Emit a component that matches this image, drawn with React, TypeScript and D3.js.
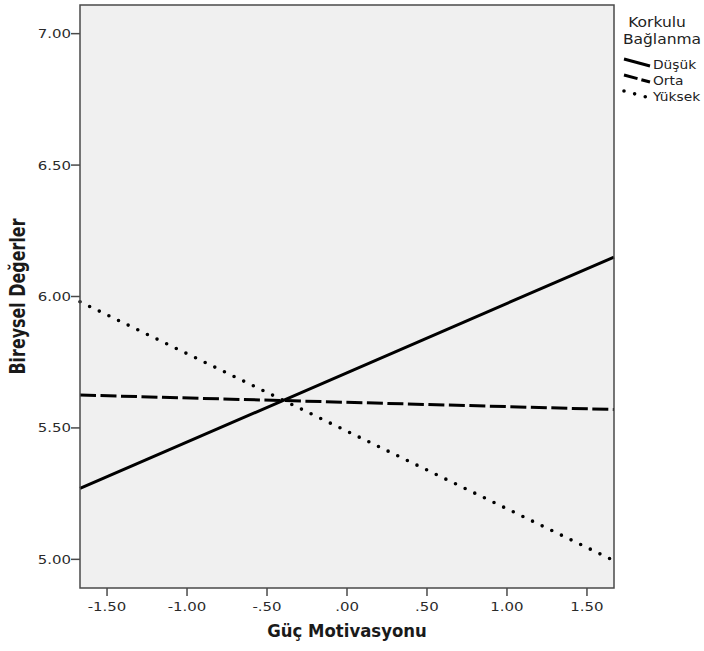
import React from 'react';
import * as d3 from 'd3';

// values
const groups = ['Düşük', 'Orta', 'Yüksek'];
const xValues = [-1.669, 1.669];
const dusuk = [5.27, 6.15];
const orta = [5.625, 5.57];
const yuksek = [5.98, 4.995];
const yTicks = [5.0, 5.5, 6.0, 6.5, 7.0];
const xTicks = [-1.5, -1.0, -0.5, 0, 0.5, 1.0, 1.5];
const yDomain = [4.891, 7.109];

const W = 704;
const H = 651;
const margin = { top: 5, right: 90, bottom: 63, left: 80 };
// the reference text is a bit wider than it is tall
const SX = 1.15;

const styles = [
  { dash: null, width: 3, cap: 'butt' },
  { dash: '16 4.5', width: 3, cap: 'butt' },
  { dash: '0 10.7', width: 3.6, cap: 'round' },
];

const fmtX = (v: number) => {
  const s = d3.format('.2f')(Math.abs(v)).replace(/^0/, '');
  return (v < 0 ? '-' : '') + s;
};

const at = (x: number, y: number, sx = SX) => `translate(${x},${y}) scale(${sx},1)`;

export default function App() {
  const x = d3.scaleLinear().domain(xValues).range([margin.left, W - margin.right]);
  const y = d3.scaleLinear().domain(yDomain).range([H - margin.bottom, margin.top]);
  const line = d3.line<[number, number]>().x(d => x(d[0])).y(d => y(d[1]));
  const series = [dusuk, orta, yuksek];

  const [x0, x1] = x.range();
  const [yb, yt] = y.range();
  const tickFont = '"DejaVu Sans", Verdana, sans-serif';
  const titleFont = '"DejaVu Sans Condensed", "DejaVu Sans", sans-serif';

  return (
    <div style={{ position: 'fixed', left: 0, top: 0 }}>
      <svg width={W} height={H} style={{ display: 'block', background: '#fff' }}>
        <rect x={x0} y={yt} width={x1 - x0} height={yb - yt} fill="#f0f0f0" />

        {series.map((s, i) => (
          <path
            key={groups[i]}
            d={line(xValues.map((xv, j) => [xv, s[j]]) as [number, number][]) || ''}
            fill="none"
            stroke="#000"
            strokeWidth={styles[i].width}
            strokeDasharray={styles[i].dash || undefined}
            strokeLinecap={styles[i].cap as any}
          />
        ))}

        <rect x={x0} y={yt} width={x1 - x0} height={yb - yt} fill="none" stroke="#4a4a4a" strokeWidth={1.5} />

        {yTicks.map(t => (
          <g key={t}>
            <line x1={x0 - 9} x2={x0} y1={y(t)} y2={y(t)} stroke="#4a4a4a" strokeWidth={1.5} />
            <text transform={at(x0 - 9, y(t))} dy="0.35em" textAnchor="end" fontFamily={tickFont} fontSize={13} fill="#2a2a2a">
              {d3.format('.2f')(t)}
            </text>
          </g>
        ))}

        {xTicks.map(t => (
          <g key={t}>
            <line x1={x(t)} x2={x(t)} y1={yb} y2={yb + 8} stroke="#4a4a4a" strokeWidth={1.5} />
            <text transform={at(x(t), yb + 23)} textAnchor="middle" fontFamily={tickFont} fontSize={13} fill="#2a2a2a">
              {fmtX(t)}
            </text>
          </g>
        ))}

        <text transform={at((x0 + x1) / 2, 637, 1.08)} textAnchor="middle" fontFamily={titleFont} fontWeight="bold" fontSize={17} fill="#1a1a1a">
          Güç Motivasyonu
        </text>
        <text
          transform={`${at(25, (yt + yb) / 2)} rotate(-90)`}
          textAnchor="middle"
          fontFamily={titleFont}
          fontWeight="bold"
          fontSize={17.7}
          fill="#1a1a1a"
        >
          Bireysel Değerler
        </text>

        {/* legend */}
        <g fontFamily={tickFont} fill="#222">
          <text transform={at(657, 27)} textAnchor="middle" fontSize={13.5}>Korkulu</text>
          <text transform={at(662, 44)} textAnchor="middle" fontSize={13.5}>Bağlanma</text>
          {groups.map((g, i) => {
            const by = 69 + i * 16;
            return (
              <g key={g}>
                <line
                  x1={624}
                  x2={650}
                  y1={by - 10}
                  y2={by - 3}
                  stroke="#000"
                  strokeWidth={styles[i].width}
                  strokeDasharray={i === 1 ? '14 4' : i === 2 ? '0 11' : undefined}
                  strokeLinecap={styles[i].cap as any}
                />
                <text transform={at(653, by)} fontSize={12}>{g}</text>
              </g>
            );
          })}
        </g>
      </svg>
    </div>
  );
}
